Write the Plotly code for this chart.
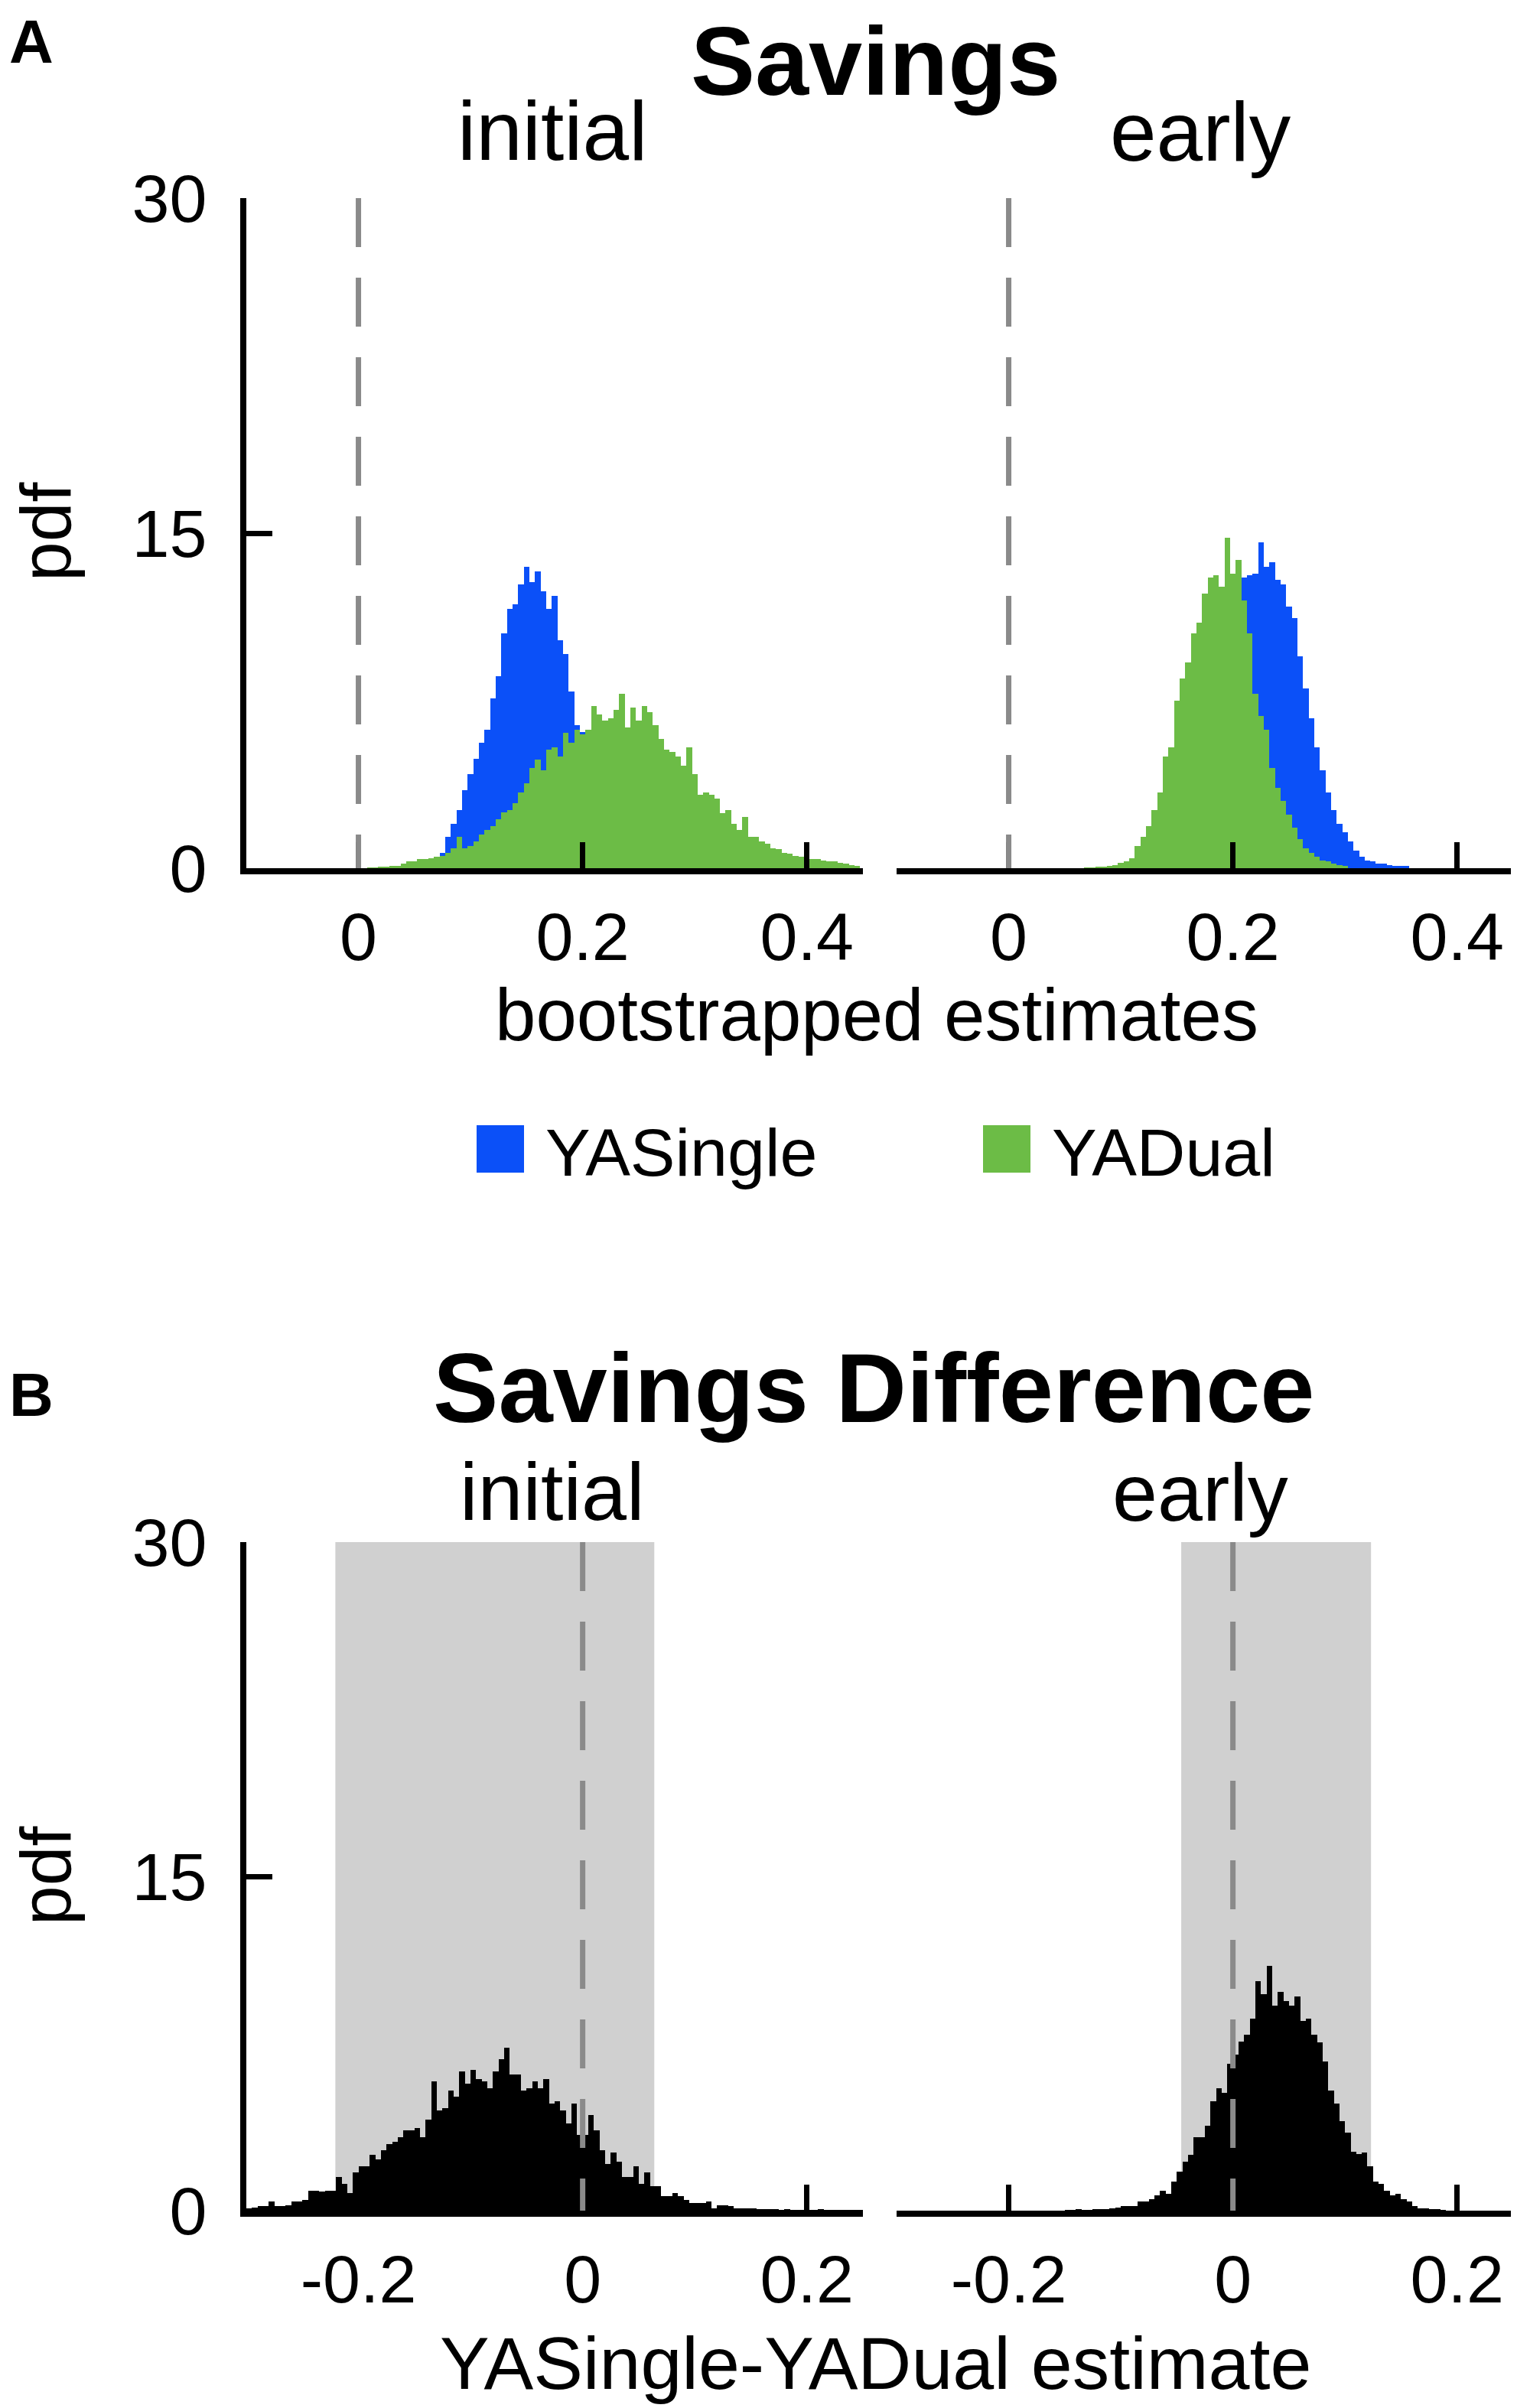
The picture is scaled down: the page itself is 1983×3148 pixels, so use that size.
import numpy as np
import plotly.graph_objects as go

W, H = 1983, 3148
FONT = "Liberation Sans, Arial, Helvetica, sans-serif"
BLUE = "#0b50f8"
GREEN = "#6cbc46"
SHADE = "#d0d0d0"
DASH = "#8a8a8a"

BIN = 0.005

# Panel A: bootstrapped savings estimates (pdf per bin), bin centres start at *_start
single_initial_start = 0.050
single_initial = [
    0.05, 0.1, 0.2, 0.3, 0.45, 0.7, 1.4, 2.0, 2.6, 3.5,
    4.2, 4.9, 5.6, 6.2, 7.6, 8.6, 10.5, 11.6, 11.8, 12.7,
    13.5, 12.8, 13.3, 12.4, 11.6, 12.2, 10.2, 9.6, 7.9, 6.4,
    6.1, 5.2, 4.2, 3.3, 2.5, 1.8, 1.2, 0.8, 0.5, 0.3,
    0.15,
]
dual_initial_start = 0.010
dual_initial = [
    0.02, 0.03, 0.05, 0.05, 0.1, 0.12, 0.2, 0.3, 0.3, 0.4,
    0.4, 0.45, 0.5, 0.55, 0.7, 0.9, 1.4, 0.9, 1.0, 1.2,
    1.5, 1.7, 1.9, 2.2, 2.5, 2.6, 2.9, 3.4, 3.8, 4.5,
    4.85, 4.4, 5.3, 5.4, 5.0, 6.05, 5.6, 6.2, 6.0, 6.2,
    7.25, 6.9, 6.6, 6.7, 7.1, 7.8, 6.3, 7.2, 6.6, 7.25,
    7.0, 6.4, 5.8, 5.3, 5.2, 5.0, 4.6, 5.4, 4.2, 3.3,
    3.4, 3.3, 3.1, 2.45, 2.6, 2.0, 1.7, 2.3, 1.4, 1.4,
    1.2, 1.1, 0.9, 0.85, 0.7, 0.65, 0.55, 0.5, 0.45, 0.4,
    0.4, 0.35, 0.3, 0.3, 0.25, 0.2, 0.15, 0.1,
]
single_early_start = 0.120
single_early = [
    0.1, 0.2, 0.3, 0.5, 0.8, 1.2, 1.8, 2.5, 3.3, 4.3,
    5.4, 6.6, 7.8, 9.0, 10.2, 11.2, 12.0, 12.6, 13.0, 13.1,
    13.2, 14.6, 13.5, 13.7, 12.9, 12.7, 11.7, 11.2, 9.5, 8.05,
    6.7, 5.4, 4.4, 3.4, 2.6, 2.0, 1.6, 1.2, 0.8, 0.5,
    0.35, 0.3, 0.2, 0.2, 0.15, 0.1, 0.1, 0.1,
]
dual_early_start = 0.070
dual_early = [
    0.02, 0.03, 0.05, 0.08, 0.1, 0.15, 0.25, 0.3, 0.45, 1.0,
    1.4, 1.9, 2.6, 3.4, 5.0, 5.4, 7.5, 8.5, 9.2, 10.5,
    11.0, 12.3, 13.0, 13.1, 12.6, 14.8, 13.2, 13.8, 12.0, 10.5,
    7.8, 6.8, 6.2, 4.5, 3.6, 3.0, 2.4, 1.8, 1.3, 0.9,
    0.7, 0.5, 0.35, 0.3, 0.2, 0.15, 0.1,
]

# Panel B: YASingle-YADual difference
diff_initial_start = -0.2975
diff_initial = [
    0.12, 0.15, 0.2, 0.2, 0.4, 0.2, 0.2, 0.25, 0.4, 0.4,
    0.48, 0.9, 0.9, 0.85, 0.9, 0.9, 1.5, 1.2, 0.8, 1.7,
    2.0, 2.0, 2.5, 2.3, 2.7, 3.0, 3.1, 3.3, 3.6, 3.6,
    3.7, 3.3, 4.1, 5.8, 4.5, 4.6, 5.4, 5.1, 6.25, 5.7,
    6.3, 5.9, 5.8, 5.5, 6.25, 6.8, 7.3, 6.1, 6.1, 5.4,
    5.5, 5.8, 5.5, 5.9, 4.8, 4.9, 4.5, 3.9, 4.8, 3.4,
    3.4, 4.3, 3.6, 2.7, 2.1, 2.6, 2.2, 1.5, 1.5, 2.0,
    1.2, 1.7, 1.1, 1.1, 0.65, 0.65, 0.8, 0.65, 0.48, 0.36,
    0.36, 0.36, 0.4, 0.12, 0.24, 0.24, 0.2, 0.12, 0.12, 0.12,
    0.1, 0.05, 0.05, 0.04, 0.04, 0.03, 0.05, 0.03, 0.02, 0.03,
    0.02, 0.02, 0.05, 0.02, 0.02, 0.01, 0.01, 0.01, 0.01, 0.01,
]
diff_early_start = -0.1475
diff_early = [
    0.02, 0.03, 0.04, 0.03, 0.03, 0.04, 0.05, 0.06, 0.1, 0.14,
    0.2, 0.2, 0.2, 0.42, 0.42, 0.5, 0.7, 0.9, 0.75, 1.3,
    1.75, 2.2, 2.5, 3.3, 3.3, 3.8, 4.9, 5.5, 5.3, 6.6,
    7.0, 7.6, 7.9, 8.6, 10.3, 9.7, 11.0, 9.2, 9.8, 9.4,
    9.2, 9.6, 8.5, 8.6, 7.9, 7.55, 6.7, 5.4, 4.8, 4.0,
    3.5, 2.65, 2.55, 2.6, 2.0, 1.3, 1.2, 0.9, 0.7, 0.75,
    0.5, 0.4, 0.2, 0.12, 0.12, 0.08, 0.06, 0.03,
]

# 95% intervals of the difference (shaded)
ci_initial = [-0.2206, 0.0639]
ci_early = [-0.0461, 0.1232]

y_ticks = [0, 15, 30]
a_ticks = [0, 0.2, 0.4]
a_ticktext = ["0", "0.2", "0.4"]
b_ticks = [-0.2, 0, 0.2]
b_ticktext = ["-0.2", "0", "0.2"]


def px_x(x):
    return x / W


def px_y(y):
    return 1 - y / H


def centres(start, heights):
    return start + BIN * np.arange(len(heights))


def hist_bar(start, heights, color, name, xa, ya):
    return go.Bar(
        x=centres(start, heights), y=heights, width=BIN,
        marker=dict(color=color, line=dict(width=0)),
        name=name, showlegend=False, xaxis=xa, yaxis=ya,
    )


fig = go.Figure()
fig.add_trace(hist_bar(single_initial_start, single_initial, BLUE, "YASingle", "x", "y"))
fig.add_trace(hist_bar(dual_initial_start, dual_initial, GREEN, "YADual", "x", "y"))
fig.add_trace(hist_bar(single_early_start, single_early, BLUE, "YASingle", "x2", "y2"))
fig.add_trace(hist_bar(dual_early_start, dual_early, GREEN, "YADual", "x2", "y2"))
fig.add_trace(hist_bar(diff_initial_start, diff_initial, "black", "diff", "x3", "y3"))
fig.add_trace(hist_bar(diff_early_start, diff_early, "black", "diff", "x4", "y4"))

x_left = [px_x(314), px_x(1120)]
x_right = [px_x(1164), px_x(1970)]
y_a = [px_y(1127), px_y(251)]
y_b = [px_y(2882), px_y(2008)]

tickfont = dict(family=FONT, size=88, color="black")
xcommon = dict(
    showline=True, linecolor="black", linewidth=8, ticks="inside", ticklen=34,
    tickwidth=7, tickcolor="black", showgrid=False, zeroline=False,
    tickfont=tickfont, ticklabelstandoff=6, fixedrange=True, automargin=False,
)
ycommon = dict(range=[0, 30], showgrid=False, zeroline=False, fixedrange=True, automargin=False)
yshown = dict(
    showline=True, linecolor="black", linewidth=8, ticks="inside", ticklen=34,
    tickwidth=7, tickcolor="black", tickvals=y_ticks, tickfont=tickfont,
    ticklabelstandoff=26, **ycommon,
)
yhidden = dict(showline=False, ticks="", showticklabels=False, **ycommon)

fig.update_layout(
    width=W, height=H, margin=dict(l=0, r=0, t=0, b=0, autoexpand=False),
    paper_bgcolor="white", plot_bgcolor="white",
    barmode="overlay", bargap=0, showlegend=False,
    font=dict(family=FONT, color="black"),
    xaxis=dict(domain=x_left, range=[-0.1, 0.45], tickvals=a_ticks, ticktext=a_ticktext, anchor="y", **xcommon),
    yaxis=dict(domain=y_a, anchor="x", **yshown),
    xaxis2=dict(domain=x_right, range=[-0.1, 0.45], tickvals=a_ticks, ticktext=a_ticktext, anchor="y2", **xcommon),
    yaxis2=dict(domain=y_a, anchor="x2", **yhidden),
    xaxis3=dict(domain=x_left, range=[-0.3, 0.25], tickvals=b_ticks, ticktext=b_ticktext, anchor="y3", **xcommon),
    yaxis3=dict(domain=y_b, anchor="x3", **yshown),
    xaxis4=dict(domain=x_right, range=[-0.3, 0.25], tickvals=b_ticks, ticktext=b_ticktext, anchor="y4", **xcommon),
    yaxis4=dict(domain=y_b, anchor="x4", **yhidden),
)

# shaded intervals (below bars) and dashed zero lines (above bars)
for ci, xr, yr in [(ci_initial, "x3", "y3"), (ci_early, "x4", "y4")]:
    fig.add_shape(type="rect", xref=xr, yref=yr, x0=ci[0], x1=ci[1], y0=0, y1=30,
                  fillcolor=SHADE, line=dict(width=0), layer="below")
for xr, yr in [("x", "y"), ("x2", "y2"), ("x3", "y3"), ("x4", "y4")]:
    fig.add_shape(type="line", xref=xr, yref=yr, x0=0, x1=0, y0=30, y1=0,
                  line=dict(color=DASH, width=7, dash="64px,40px"))

# legend squares
for x0, color in [(615, BLUE), (1277, GREEN)]:
    fig.add_shape(type="rect", xref="paper", yref="paper",
                  x0=px_x(x0), x1=px_x(x0 + 62), y0=px_y(1525), y1=px_y(1463),
                  fillcolor=color, line=dict(width=0))


def text(s, x, y, size, xanchor="center", angle=0, yanchor="bottom"):
    fig.add_annotation(
        text=s, x=px_x(x), y=px_y(y), xref="paper", yref="paper",
        xanchor=xanchor, yanchor=yanchor, showarrow=False, textangle=angle,
        font=dict(family=FONT, size=size, color="black"),
    )


text("<b>A</b>", 2, 0, 80, xanchor="left", yanchor="top")
text("<b>Savings</b>", 1136, 0, 126, yanchor="top")
text("initial", 714, 226, 109)
text("early", 1561, 227, 109)
text("pdf", 52, 688, 93, angle=-90, yanchor="middle")
text("bootstrapped estimates", 1138, 1374, 96)
text("YASingle", 703, 1550, 88, xanchor="left")
text("YADual", 1365, 1550, 88, xanchor="left")

text("<b>B</b>", 2, 1862, 80, xanchor="left")
text("<b>Savings Difference</b>", 1134, 1880, 128)
text("initial", 714, 2003, 106)
text("early", 1561, 2004, 106)
text("pdf", 52, 2445, 93, angle=-90, yanchor="middle")
text("YASingle-YADual estimate", 1136, 3138, 97)

fig.write_html("out.html")
